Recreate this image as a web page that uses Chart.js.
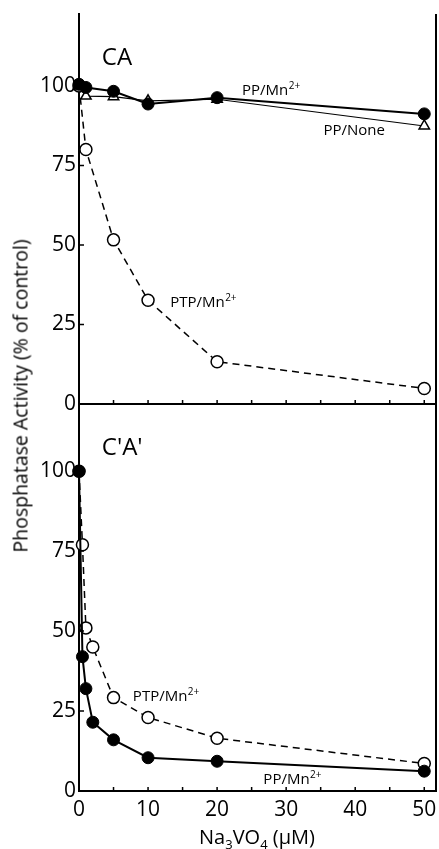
<!DOCTYPE html>
<html>
<head>
<meta charset="utf-8">
<script src="https://cdn.jsdelivr.net/npm/chart.js@4"></script>
<style>
  body { margin: 0; background: #fff; }
  #wrap { position: relative; width: 439px; height: 849px; font-family: "Open Sans", sans-serif; }
  canvas { position: absolute; left: 0; }
  #topChart { top: 0; }
  #bottomChart { top: 404px; }
  .ytitle {
    position: absolute; left: 20px; top: 396px; white-space: nowrap;
    transform: translate(-50%, -50%) rotate(-90deg); font-size: 19.5px; color: #000;
  }
  .xtitle {
    position: absolute; left: 257px; top: 838px; white-space: nowrap;
    transform: translate(-50%, -50%); font-size: 20px; color: #000;
  }
  .xtitle sub { font-size: 13px; }
</style>
</head>
<body>
<div id="wrap">
  <canvas id="topChart" width="439" height="424"></canvas>
  <canvas id="bottomChart" width="439" height="445"></canvas>
  <div class="ytitle">Phosphatase Activity (% of control)</div>
  <div class="xtitle">Na<sub>3</sub>VO<sub>4</sub> (µM)</div>
</div>
<script>
// values
const xTop = [0, 1, 5, 10, 20, 50];
const topPPMn = [100.5, 99.5, 98.3, 94.3, 96.3, 91.2];
const topPPNone = [100, 96.8, 96.6, 95.3, 95.8, 87.4];
const topPTPMn = [100, 80, 51.6, 32.6, 13.3, 4.9];

const xBottom = [0, 0.5, 1, 2, 5, 10, 20, 50];
const bottomPTPMn = [100, 77, 51, 45, 29.2, 23, 16.5, 8.6];
const bottomPPMn = [100, 42, 32, 21.5, 16, 10.4, 9.3, 6.2];

const xTicks = [0, 10, 20, 30, 40, 50];
const xMinorTicks = [5, 15, 25, 35, 45];
const yTicks = [0, 25, 50, 75, 100];

const toPts = (xs, ys) => xs.map((x, i) => ({x: x, y: ys[i]}));

const FONT = '"Open Sans", sans-serif';

// inward tick marks, right border, curve labels, panel letter
const frame = {
  id: 'frame',
  afterDraw(chart, args, opts) {
    const {ctx, chartArea: a, scales: {x, y}} = chart;
    ctx.save();
    ctx.strokeStyle = '#000';
    ctx.lineWidth = 2;
    ctx.beginPath();
    ctx.moveTo(a.right, a.top);
    ctx.lineTo(a.right, a.bottom + 1);
    ctx.stroke();

    ctx.lineWidth = 1.5;
    ctx.beginPath();
    xTicks.concat(xMinorTicks).forEach(v => {
      const px = x.getPixelForValue(v);
      ctx.moveTo(px, a.bottom);
      ctx.lineTo(px, a.bottom - 4);
    });
    yTicks.forEach(v => {
      const py = y.getPixelForValue(v);
      ctx.moveTo(a.left, py);
      ctx.lineTo(a.left + 5, py);
    });
    ctx.stroke();

    ctx.fillStyle = '#000';
    ctx.textBaseline = 'middle';
    ctx.textAlign = 'left';
    ctx.font = '24px ' + FONT;
    ctx.fillText(opts.panel.text, x.getPixelForValue(opts.panel.x), y.getPixelForValue(opts.panel.y));
    opts.notes.forEach(n => {
      const px = x.getPixelForValue(n.x), py = y.getPixelForValue(n.y);
      ctx.font = '15px ' + FONT;
      ctx.fillText(n.text, px, py);
      if (n.sup) {
        const w = ctx.measureText(n.text).width;
        ctx.font = '10px ' + FONT;
        ctx.fillText(n.sup, px + w + 0.5, py - 5);
      }
    });
    ctx.restore();
  }
};

const ppStyle = {
  borderColor: '#000', borderWidth: 2, pointStyle: 'circle', pointRadius: 6,
  pointBackgroundColor: '#000', pointBorderColor: '#000', pointBorderWidth: 1
};
const ptpStyle = {
  borderColor: '#000', borderWidth: 1.5, borderDash: [7, 5], pointStyle: 'circle', pointRadius: 6,
  pointBackgroundColor: '#fff', pointBorderColor: '#000', pointBorderWidth: 1.5
};
const noneStyle = {
  borderColor: '#000', borderWidth: 1.2, pointStyle: 'triangle', pointRadius: 6,
  pointBackgroundColor: '#fff', pointBorderColor: '#000', pointBorderWidth: 1.5
};

const makeOptions = (yMax, showX, xHeight, padTop, panel, notes) => ({
  responsive: false,
  animation: false,
  devicePixelRatio: 1,
  layout: {autoPadding: false, padding: {left: 0, right: 3, top: padTop, bottom: 0}},
  plugins: {legend: {display: false}, tooltip: {enabled: false}, frame: {panel, notes}},
  scales: {
    x: {
      type: 'linear', min: 0, max: 51.7,
      afterBuildTicks: s => { s.ticks = xTicks.map(v => ({value: v})); },
      afterFit: s => { s.height = xHeight; s.paddingLeft = 0; s.paddingRight = 0; },
      grid: {drawOnChartArea: false, drawTicks: false},
      border: {display: true, color: '#000', width: 2},
      ticks: {display: showX, color: '#000', padding: 6, font: {family: FONT, size: 21}, maxRotation: 0}
    },
    y: {
      type: 'linear', min: 0, max: yMax,
      afterBuildTicks: s => { s.ticks = yTicks.map(v => ({value: v})); },
      afterFit: s => { s.width = 79; s.paddingTop = 0; s.paddingBottom = 0; },
      grid: {drawOnChartArea: false, drawTicks: false},
      border: {display: true, color: '#000', width: 2},
      ticks: {color: '#000', padding: 3, font: {family: FONT, size: 21}}
    }
  }
});

new Chart(document.getElementById('topChart'), {
  type: 'line',
  data: {
    datasets: [
      Object.assign({label: 'PTP/Mn2+', data: toPts(xTop, topPTPMn), order: 3, clip: false}, ptpStyle),
      Object.assign({label: 'PP/None', data: toPts(xTop, topPPNone), order: 2, clip: false}, noneStyle),
      Object.assign({label: 'PP/Mn2+', data: toPts(xTop, topPPMn), order: 1, clip: false}, ppStyle)
    ]
  },
  options: makeOptions(122.6, false, 20, 14,
    {text: 'CA', x: 3.3, y: 108.8},
    [
      {text: 'PP/Mn', sup: '2+', x: 23.6, y: 98.4},
      {text: 'PP/None', x: 35.4, y: 85.8},
      {text: 'PTP/Mn', sup: '2+', x: 13.2, y: 31.8}
    ]),
  plugins: [frame]
});

new Chart(document.getElementById('bottomChart'), {
  type: 'line',
  data: {
    datasets: [
      Object.assign({label: 'PTP/Mn2+', data: toPts(xBottom, bottomPTPMn), order: 2, clip: false}, ptpStyle),
      Object.assign({label: 'PP/Mn2+', data: toPts(xBottom, bottomPPMn), order: 1, clip: false}, ppStyle)
    ]
  },
  options: makeOptions(121, true, 58, 0,
    {text: "C'A'", x: 3.3, y: 107.2},
    [
      {text: 'PTP/Mn', sup: '2+', x: 7.8, y: 29.4},
      {text: 'PP/Mn', sup: '2+', x: 26.7, y: 3.4}
    ]),
  plugins: [frame]
});
</script>
</body>
</html>
